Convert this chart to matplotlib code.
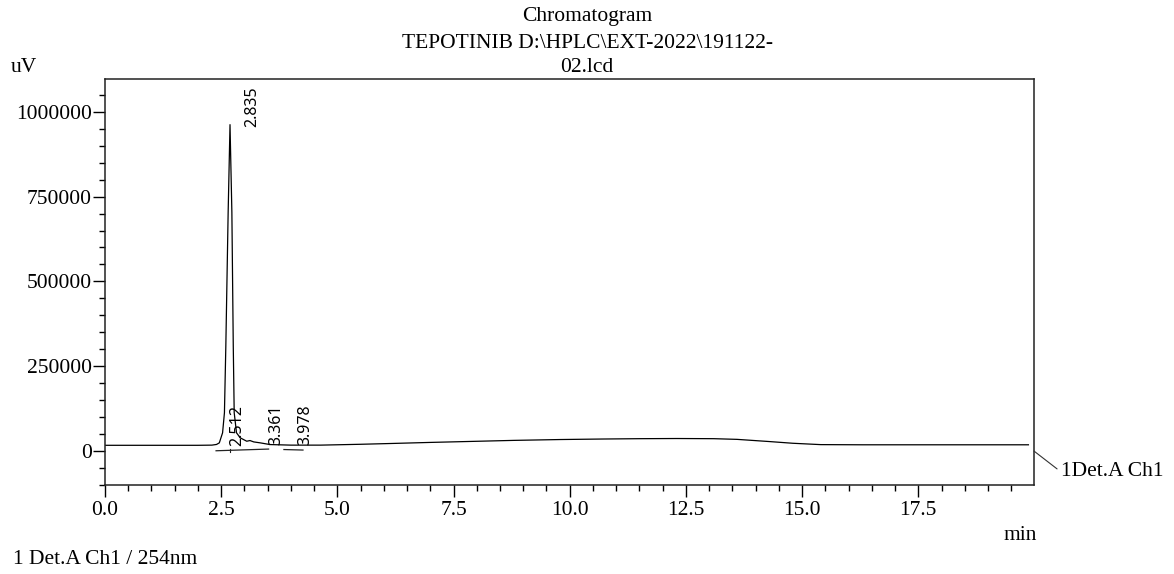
import numpy as np
import matplotlib
matplotlib.use('agg')
import matplotlib.pyplot as plt
from matplotlib.ticker import MultipleLocator, FormatStrFormatter

# detector trace (min, uV)
time = [0.0, 1.0, 2.0, 2.30, 2.40, 2.46, 2.53, 2.57, 2.60, 2.65, 2.69,
        2.73, 2.76, 2.78, 2.83, 2.91, 2.98, 3.05, 3.12, 3.20, 3.34, 3.55,
        4.0, 4.64, 5.5, 6.2, 7.0, 7.9, 8.8, 9.8, 10.7, 11.5, 12.3, 13.1,
        13.6, 14.3, 14.8, 15.4, 16.3, 17.5, 19.87]
signal = [17000, 17000, 17000, 17500, 19500, 24200, 53800, 113000, 309700,
          704000, 962000, 704000, 309700, 113000, 53800, 39000, 34000,
          29000, 31000, 27000, 24200, 19200, 17500, 17500, 20000, 22500,
          25500, 28500, 31500, 34000, 35500, 36500, 37000, 36500, 34500,
          28000, 23000, 19000, 18500, 18500, 18500]

# peak table
peak_rt = [2.512, 2.835, 3.361, 3.978]
peak_lbl = ['2.512', '2.835', '3.361', '3.978']
label_height = [16000, 955000, 19000, 19000]

# integration baselines (start time, start uV, end time, end uV)
base_t0 = [2.39, 3.85]
base_y0 = [900, 4500]
base_t1 = [3.52, 4.26]
base_y1 = [5900, 3000]

serif = ['Liberation Serif', 'DejaVu Serif']
plt.rcParams['font.family'] = serif

fig = plt.figure(figsize=(11.74, 5.74), dpi=100)
ax = fig.add_axes([105/1174, 1-485/574, (1034-105)/1174, (485-78.5)/574])

ax.plot(time, signal, color='black', lw=0.9)
for i in range(len(base_t0)):
    ax.plot([base_t0[i], base_t1[i]], [base_y0[i], base_y1[i]], color='#222222', lw=0.9)
ax.plot([2.69, 2.69], [-2000, 6000], color='#222222', lw=0.8)

for rt, lb, h in zip(peak_rt, peak_lbl, label_height):
    ax.text(rt + 0.33, h, lb, rotation=90, ha='center', va='bottom',
            fontsize=11.5, family=['Noto Sans', 'DejaVu Sans'])

ax.set_xlim(0, 19.99)
ax.set_ylim(-100000, 1098000)
ax.xaxis.set_major_locator(MultipleLocator(2.5))
ax.xaxis.set_minor_locator(MultipleLocator(0.5))
ax.yaxis.set_major_locator(MultipleLocator(250000))
ax.yaxis.set_minor_locator(MultipleLocator(50000))
ax.xaxis.set_major_formatter(FormatStrFormatter('%.1f'))
ax.yaxis.set_major_formatter(FormatStrFormatter('%d'))
ax.tick_params(axis='x', which='major', length=8.5, width=1, pad=3, labelsize=15.5)
ax.tick_params(axis='x', which='minor', length=4.3, width=1)
ax.tick_params(axis='y', which='major', length=8.5, width=1, pad=1, labelsize=15.5)
ax.tick_params(axis='y', which='minor', length=4.3, width=1)
for s in ax.spines.values():
    s.set_linewidth(1.1)
    s.set_color('#222222')

ax.annotate('1Det.A Ch1', xy=(1.0, 0), xycoords=('axes fraction', 'data'),
            xytext=(19.4, -15), textcoords='offset points', ha='left', va='center',
            fontsize=15.5,
            arrowprops=dict(arrowstyle='-', relpos=(0, 0.5), shrinkA=1, shrinkB=0,
                            lw=0.8, color='#333333'))

fig.text(0.5, 1-17/574, 'Chromatogram', ha='center', va='center', fontsize=15.5)
fig.text(0.5, 1-43/574, 'TEPOTINIB D:\\HPLC\\EXT-2022\\191122-', ha='center', va='center', fontsize=15.5)
fig.text(0.5, 1-68/574, '02.lcd', ha='center', va='center', fontsize=15.5)
fig.text(11/1174, 1-67/574, 'uV', ha='left', va='center', fontsize=15.5)
fig.text(1003/1174, 1-536/574, 'min', ha='left', va='center', fontsize=15.5)
fig.text(13/1174, 1-560/574, '1 Det.A Ch1 / 254nm', ha='left', va='center', fontsize=15.5)

plt.savefig('out.png', dpi=100)
plt.close()
